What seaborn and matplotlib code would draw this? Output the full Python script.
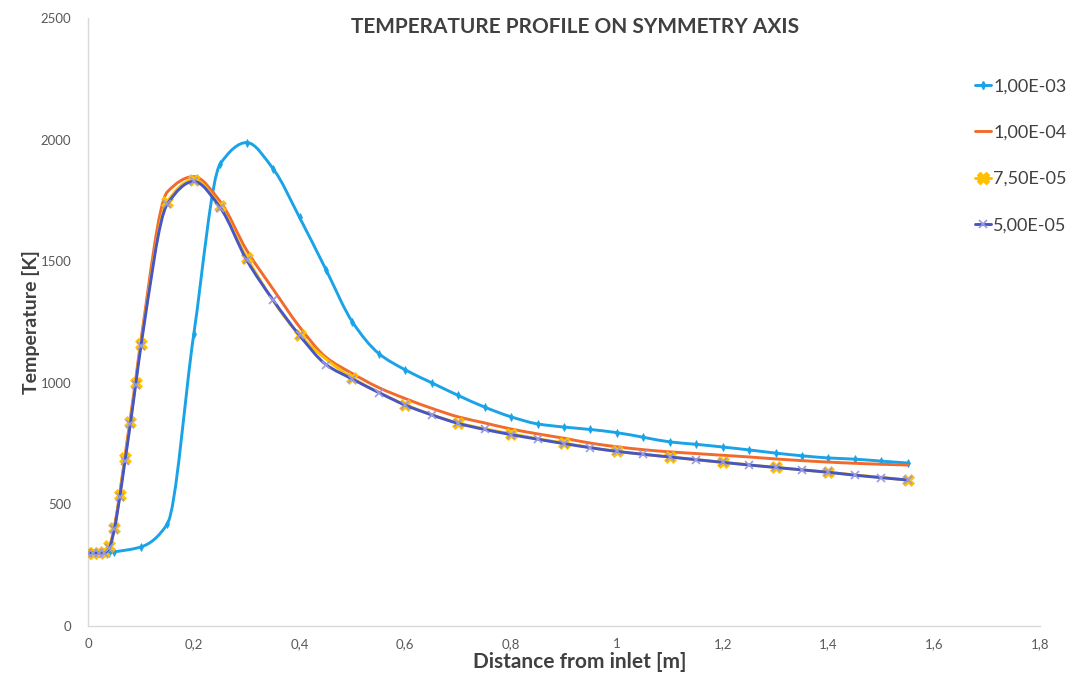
import numpy as np
import pandas as pd
import matplotlib
matplotlib.use("Agg")
import matplotlib.pyplot as plt
from matplotlib.path import Path
from matplotlib.patches import PathPatch
from matplotlib.lines import Line2D
import seaborn as sns

# ---------------- data ----------------
series_labels = ["1,00E-03", "1,00E-04", "7,50E-05", "5,00E-05"]

x_1e3 = [0, 0.01, 0.02, 0.03, 0.04, 0.05, 0.1, 0.15, 0.2, 0.25, 0.3, 0.35, 0.4, 0.45,
         0.5, 0.55, 0.6, 0.65, 0.7, 0.75, 0.8, 0.85, 0.9, 0.95, 1.0, 1.05, 1.1, 1.15,
         1.2, 1.25, 1.3, 1.35, 1.4, 1.45, 1.5, 1.55]
t_1e3 = [300, 300, 300, 300, 302, 305, 325, 420, 1200, 1900, 1988, 1880, 1680, 1465,
         1250, 1120, 1053, 1000, 948, 900, 860, 831, 818, 808, 795, 776, 757, 747,
         736, 724, 711, 700, 691, 686, 678, 670]

x_1e4 = [0, 0.01, 0.02, 0.03, 0.04, 0.05, 0.06, 0.07, 0.08, 0.09, 0.1, 0.15, 0.2, 0.25,
         0.3, 0.35, 0.4, 0.45, 0.5, 0.55, 0.6, 0.65, 0.7, 0.75, 0.8, 0.85, 0.9, 0.95,
         1.0, 1.05, 1.1, 1.15, 1.2, 1.25, 1.3, 1.35, 1.4, 1.45, 1.5, 1.55]
t_1e4 = [300, 300, 300, 300, 320, 410, 545, 700, 855, 1010, 1175, 1785, 1848, 1745,
         1545, 1385, 1230, 1105, 1038, 980, 935, 895, 860, 835, 810, 790, 772, 752,
         737, 725, 716, 709, 702, 695, 687, 680, 674, 669, 665, 662]

x_75e5 = [0, 0.01, 0.02, 0.03, 0.04, 0.05, 0.06, 0.07, 0.08, 0.09, 0.1, 0.15, 0.2, 0.25,
          0.3, 0.4, 0.5, 0.6, 0.7, 0.8, 0.9, 1.0, 1.1, 1.2, 1.3, 1.4, 1.55]
t_75e5 = [300, 300, 300, 305, 330, 405, 540, 690, 840, 1000, 1160, 1745, 1835, 1725,
          1515, 1197, 1020, 910, 835, 790, 752, 718, 695, 673, 652, 632, 600]

x_5e5 = [0, 0.01, 0.02, 0.03, 0.04, 0.05, 0.06, 0.07, 0.08, 0.09, 0.1, 0.15, 0.2, 0.25,
         0.3, 0.35, 0.4, 0.45, 0.5, 0.55, 0.6, 0.65, 0.7, 0.75, 0.8, 0.85, 0.9, 0.95,
         1.0, 1.05, 1.1, 1.15, 1.2, 1.25, 1.3, 1.35, 1.4, 1.45, 1.5, 1.55]
t_5e5 = [300, 300, 300, 300, 320, 400, 530, 680, 830, 990, 1150, 1735, 1828, 1720,
         1505, 1340, 1195, 1075, 1015, 960, 908, 868, 833, 808, 787, 768, 750, 733,
         718, 706, 695, 684, 673, 662, 652, 642, 632, 620, 610, 600]

x_ticks = [0, 0.2, 0.4, 0.6, 0.8, 1.0, 1.2, 1.4, 1.6, 1.8]
x_ticklabels = ["0", "0,2", "0,4", "0,6", "0,8", "1", "1,2", "1,4", "1,6", "1,8"]
y_ticks = [0, 500, 1000, 1500, 2000, 2500]
y_ticklabels = ["0", "500", "1000", "1500", "2000", "2500"]

title = "TEMPERATURE PROFILE ON SYMMETRY AXIS"
x_label = "Distance from inlet [m]"
y_label = "Temperature [K]"

# ---------------- styling ----------------
sns.set_theme(style="white")
plt.rcParams["font.family"] = ["Lato", "DejaVu Sans"]

c_blue = "#1AA3E6"
c_orange = "#F26A2C"
c_yellow = "#FFC000"
c_purple = "#4656C4"
c_xmark = "#9A9AE0"
text_dark = "#404040"
text_tick = "#595959"


def pchip_path(x, y):
    """Smooth (monotone cubic Hermite) path through the data points."""
    x = np.asarray(x, float)
    y = np.asarray(y, float)
    n = len(x)
    h = np.diff(x)
    d = np.diff(y) / h
    m = np.zeros(n)
    m[0] = d[0]
    m[-1] = d[-1]
    for k in range(1, n - 1):
        if d[k - 1] * d[k] <= 0:
            m[k] = 0.0
        else:
            w1 = 2 * h[k] + h[k - 1]
            w2 = h[k] + 2 * h[k - 1]
            m[k] = (w1 + w2) / (w1 / d[k - 1] + w2 / d[k])
    verts = [(x[0], y[0])]
    codes = [Path.MOVETO]
    for i in range(n - 1):
        hh = h[i]
        verts += [(x[i] + hh / 3, y[i] + m[i] * hh / 3),
                  (x[i + 1] - hh / 3, y[i + 1] - m[i + 1] * hh / 3),
                  (x[i + 1], y[i + 1])]
        codes += [Path.CURVE4] * 3
    return Path(verts, codes)


fig = plt.figure(figsize=(10.72, 6.84), dpi=100)
ax = fig.add_axes([88 / 1072, 1 - 626 / 684, (1040 - 88) / 1072, (626 - 18) / 684])

series = [
    (x_1e3, t_1e3, c_blue, 2.1, "d", 4.2, c_blue, 1),
    (x_1e4, t_1e4, c_orange, 2.1, None, 0, c_orange, 2),
    (x_75e5, t_75e5, c_yellow, 2.1, "X", 8.5, c_yellow, 3),
    (x_5e5, t_5e5, c_purple, 2.1, "x", 6, c_xmark, 4),
]

for xs, ts, col, lw, mk, ms, mcol, z in series:
    patch = PathPatch(pchip_path(xs, ts), facecolor="none", edgecolor=col,
                      lw=lw, zorder=z, capstyle="round", joinstyle="round")
    ax.add_patch(patch)
    if mk is not None:
        df = pd.DataFrame({"x": xs, "t": ts})
        sns.lineplot(data=df, x="x", y="t", ax=ax, linestyle="none", marker=mk,
                     markersize=ms, color=mcol, markeredgecolor=mcol,
                     markeredgewidth=1.2 if mk == "x" else 0.5, zorder=z + 0.5)

ax.set_xlim(0, 1.8)
ax.set_ylim(0, 2500)
ax.set_xticks(x_ticks)
ax.set_xticklabels(x_ticklabels)
ax.set_yticks(y_ticks)
ax.set_yticklabels(y_ticklabels)
ax.tick_params(axis="both", length=0, labelsize=9.5, labelcolor=text_tick)
ax.tick_params(axis="x", pad=9)
ax.tick_params(axis="y", pad=12)
ax.set_xlabel("")
ax.set_ylabel("")

for s in ["top", "right"]:
    ax.spines[s].set_visible(False)
for s in ["left", "bottom"]:
    ax.spines[s].set_color("#D9D9D9")
    ax.spines[s].set_linewidth(1.0)

fig.text(575 / 1072, 1 - 27 / 684, title, ha="center", va="center",
         fontsize=15, fontweight="bold", color=text_dark)
fig.text(580 / 1072, 1 - 662 / 684, x_label, ha="center", va="center",
         fontsize=15, fontweight="bold", color=text_dark)
fig.text(31 / 1072, 1 - 322 / 684, y_label, ha="center", va="center",
         rotation=90, fontsize=14, fontweight="bold", color=text_dark)

handles = [
    Line2D([], [], color=c_blue, lw=2.1, marker="d", markersize=4.2),
    Line2D([], [], color=c_orange, lw=2.1),
    Line2D([], [], color=c_yellow, lw=2.1, marker="X", markersize=8.5),
    Line2D([], [], color=c_purple, lw=2.1, marker="x", markersize=6,
           markeredgecolor=c_xmark, markeredgewidth=1.2),
]
leg = fig.legend(handles, series_labels, loc="upper left",
                 bbox_to_anchor=(968 / 1072, 1 - 71 / 684), frameon=False,
                 fontsize=13, handlelength=0.9, handletextpad=0.1,
                 labelspacing=1.68, borderaxespad=0)
for t in leg.get_texts():
    t.set_color(text_dark)

fig.savefig("out.png", dpi=100, facecolor="white")
